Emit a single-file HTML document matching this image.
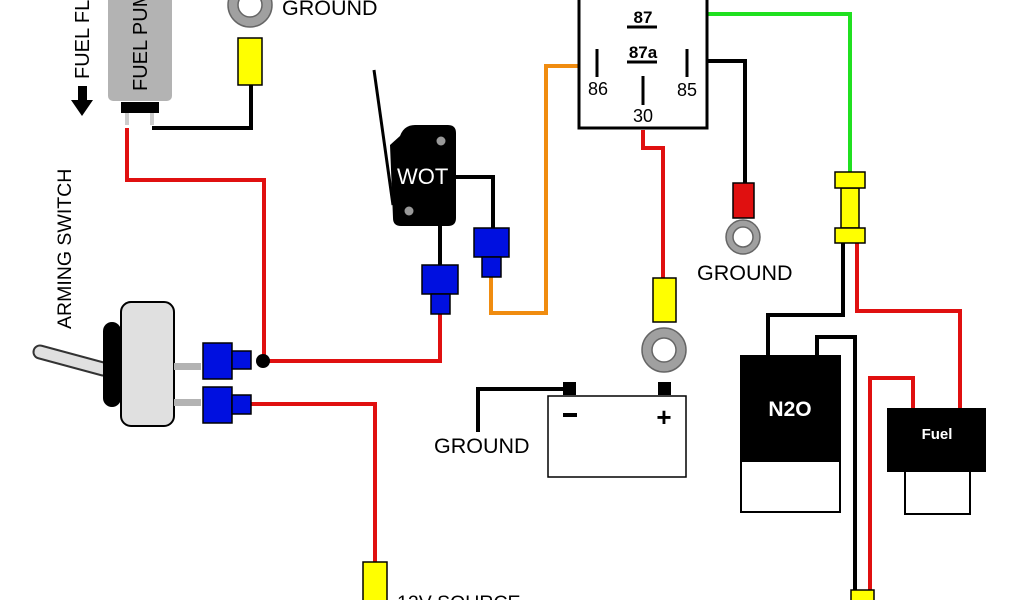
<!DOCTYPE html>
<html><head><meta charset="utf-8"><style>body{margin:0;background:#fff}svg{display:block}text{font-family:"Liberation Sans",sans-serif}</style></head>
<body>
<svg width="1024" height="600" viewBox="0 0 1024 600" xmlns="http://www.w3.org/2000/svg">
<g fill="none" stroke-linejoin="miter" stroke-width="4">
<polyline points="127,128 127,180 264,180 264,361" stroke="#e01010"/>
<polyline points="264,361 440,361 440,312" stroke="#e01010"/>
<polyline points="251,404 375,404 375,562" stroke="#e01010"/>
<polyline points="643,130 643,148 663,148 663,278" stroke="#e01010"/>
<polyline points="857,243 857,311 960,311 960,408" stroke="#e01010"/>
<polyline points="870,590 870,378 913,378 913,408" stroke="#e01010"/>
<polyline points="152,128 251,128 251,85" stroke="#000"/>
<polyline points="456,177 493,177 493,228" stroke="#000"/>
<polyline points="440,226 440,265" stroke="#000"/>
<polyline points="695,61 745,61 745,183" stroke="#000"/>
<polyline points="568,389 478,389 478,432" stroke="#000"/>
<polyline points="843,243 843,315 768,315 768,355" stroke="#000"/>
<polyline points="817,355 817,337 855,337 855,590" stroke="#000"/>
<polyline points="491,277 491,313 546,313 546,66 590,66" stroke="#f08c10"/>
<polyline points="661,14 850,14 850,172" stroke="#20e020"/>
</g>
<!-- fuel pump -->
<rect x="108" y="-10" width="64" height="111" rx="5" fill="#b3b3b3"/>
<rect x="121" y="102" width="38" height="11" fill="#000"/>
<rect x="125" y="113" width="4" height="12" fill="#ccc"/>
<rect x="150" y="113" width="4" height="12" fill="#ccc"/>
<text transform="translate(147,91) rotate(-90)" font-size="20">FUEL PUMP</text>
<text transform="translate(89,79) rotate(-90)" font-size="20">FUEL FLOW</text>
<polygon points="78,86 87,86 87,100 93,100 82,116 71,100 78,100" fill="#000"/>
<!-- top ground ring -->
<circle cx="250" cy="5" r="22" fill="#a0a0a0" stroke="#666" stroke-width="1.5"/>
<circle cx="250" cy="5" r="12" fill="#fff" stroke="#666" stroke-width="1.5"/>
<rect x="238" y="38" width="24" height="47" fill="#ffff00" stroke="#000" stroke-width="1.5"/>
<text x="282" y="15" font-size="21.5">GROUND</text>
<!-- arming switch -->
<text transform="translate(71,329) rotate(-90)" font-size="19.5">ARMING SWITCH</text>
<line x1="40" y1="352" x2="103" y2="369" stroke="#333" stroke-width="15" stroke-linecap="round"/>
<line x1="40" y1="352" x2="103" y2="369" stroke="#e0e0e0" stroke-width="11" stroke-linecap="round"/>
<rect x="103" y="322" width="18" height="85" rx="9" fill="#000"/>
<rect x="121" y="302" width="53" height="124" rx="10" fill="#e0e0e0" stroke="#000" stroke-width="2"/>
<rect x="174" y="363" width="27" height="7" fill="#b3b3b3"/>
<rect x="174" y="399" width="27" height="7" fill="#b3b3b3"/>
<g fill="#0010e0" stroke="#000" stroke-width="1.5">
<rect x="203" y="343" width="29" height="36"/><rect x="232" y="351" width="19" height="18"/>
<rect x="203" y="387" width="29" height="36"/><rect x="232" y="395" width="19" height="19"/>
<rect x="474" y="228" width="35" height="29"/><rect x="482" y="257" width="19" height="20"/>
<rect x="422" y="265" width="36" height="29"/><rect x="431" y="294" width="19" height="20"/>
</g>
<circle cx="263" cy="361" r="7" fill="#000"/>
<rect x="363" y="562" width="24" height="45" fill="#ffff00" stroke="#000" stroke-width="1.5"/>
<text x="397" y="609" font-size="19.5">12V SOURCE</text>
<!-- WOT -->
<line x1="374" y1="70" x2="393" y2="205" stroke="#000" stroke-width="3"/>
<path d="M400,136 Q404,125 415,125 L448,125 Q456,125 456,133 L456,218 Q456,226 448,226 L401,226 Q393,226 393,218 L390,145 Z" fill="#000"/>
<circle cx="441" cy="141" r="4.5" fill="#999"/>
<circle cx="409" cy="211" r="4.5" fill="#999"/>
<text x="397" y="184" font-size="22" fill="#fff">WOT</text>
<!-- relay -->
<rect x="579" y="-2" width="128" height="130" fill="#fff" stroke="#000" stroke-width="3"/>
<g font-size="17" text-anchor="middle" font-weight="bold" fill="#000">
<text x="643" y="23">87</text><text x="643" y="58">87a</text>
</g>
<g font-size="18" text-anchor="middle" fill="#000">
<text x="598" y="95">86</text><text x="687" y="96">85</text><text x="643" y="122">30</text>
</g>
<g stroke="#000" stroke-width="3">
<line x1="627" y1="27" x2="657" y2="27"/><line x1="627" y1="62" x2="657" y2="62"/>
<line x1="597" y1="49" x2="597" y2="77"/><line x1="687" y1="49" x2="687" y2="77"/>
<line x1="643" y1="76" x2="643" y2="105"/>
</g>
<!-- relay ground -->
<circle cx="743" cy="237" r="17" fill="#a0a0a0" stroke="#666" stroke-width="1.5"/>
<circle cx="743" cy="237" r="10" fill="#fff" stroke="#666" stroke-width="1.5"/>
<rect x="733" y="183" width="21" height="35" fill="#e01010" stroke="#000" stroke-width="1.5"/>
<text x="697" y="280" font-size="21.5">GROUND</text>
<g fill="#ffff00" stroke="#000" stroke-width="1.5">
<rect x="841" y="188" width="18" height="40"/>
<rect x="835" y="172" width="30" height="16"/>
<rect x="835" y="228" width="30" height="15"/>
</g>
<!-- battery -->
<circle cx="664" cy="350" r="22" fill="#a0a0a0" stroke="#666" stroke-width="1.5"/>
<circle cx="664" cy="350" r="12" fill="#fff" stroke="#666" stroke-width="1.5"/>
<rect x="653" y="278" width="23" height="44" fill="#ffff00" stroke="#000" stroke-width="1.5"/>
<rect x="563" y="382" width="13" height="13" fill="#000"/>
<rect x="658" y="382" width="13" height="13" fill="#000"/>
<rect x="548" y="396" width="138" height="81" fill="#fff" stroke="#000" stroke-width="1.5"/>
<rect x="563" y="413" width="14" height="4" fill="#000"/>
<text x="664" y="426" font-size="26" text-anchor="middle" font-weight="bold">+</text>
<text x="434" y="453" font-size="21.5">GROUND</text>
<!-- N2O -->
<rect x="741" y="461" width="99" height="51" fill="#fff" stroke="#000" stroke-width="2"/>
<rect x="740" y="355" width="101" height="107" fill="#000"/>
<text x="790" y="416" font-size="21" text-anchor="middle" fill="#fff" font-weight="bold">N2O</text>
<!-- Fuel -->
<rect x="905" y="471" width="65" height="43" fill="#fff" stroke="#000" stroke-width="2"/>
<rect x="887" y="408" width="99" height="64" fill="#000"/>
<text x="937" y="439" font-size="15" text-anchor="middle" font-weight="bold" fill="#fff">Fuel</text>
<rect x="851" y="590" width="23" height="14" fill="#ffff00" stroke="#000" stroke-width="1.5"/>
</svg>
</body></html>
